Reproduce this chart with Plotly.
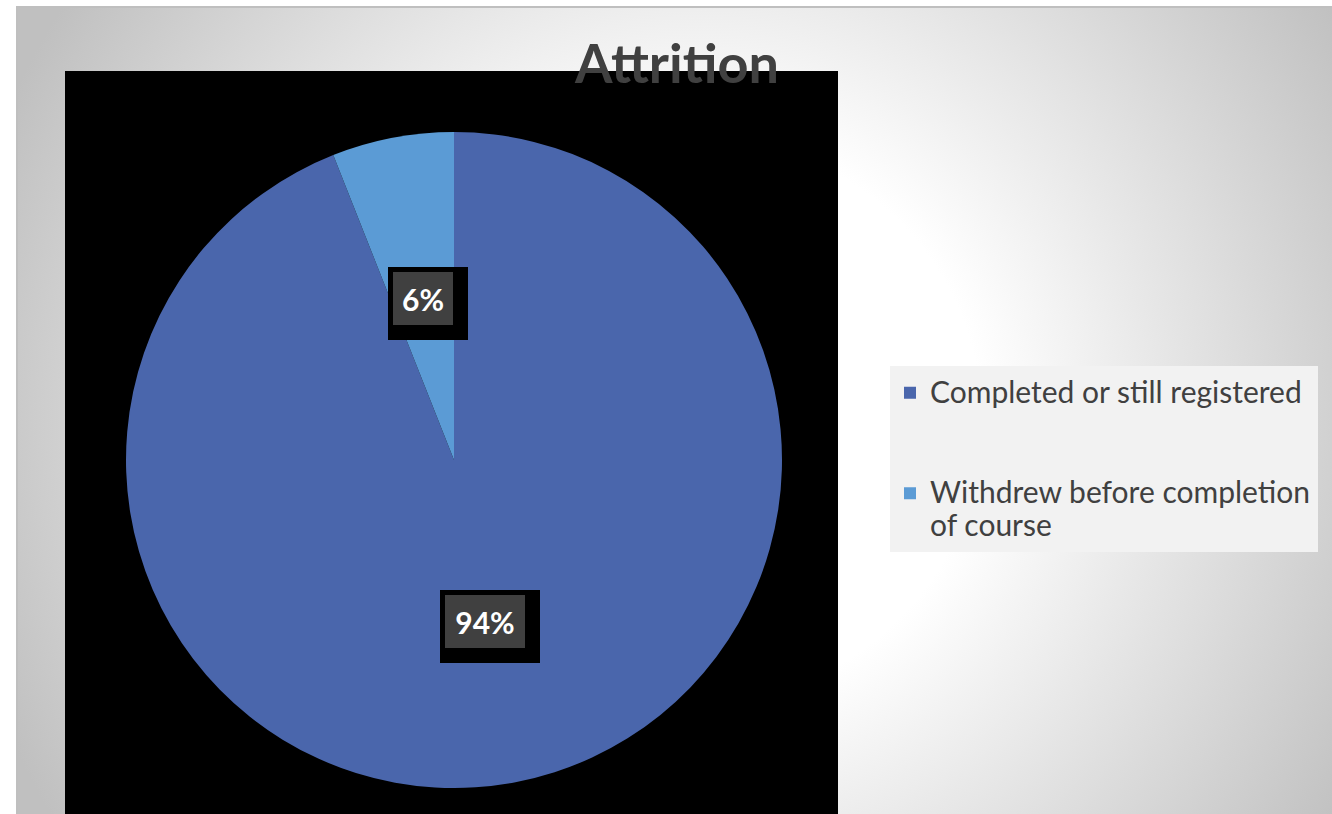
import base64
import math
import plotly.graph_objects as go

# ---------------- data ----------------
categories = ["Completed or still registered", "Withdrew before completion of course"]
legend_lines = [["Completed or still registered", " ", " "], ["Withdrew before completion", "of course"]]
values = [94, 6]
colors = ["#4A66AC", "#5B9BD5"]
title_text = "Attrition"

# ---------------- geometry / style ----------------
W, H = 1332, 814
PIE_CX, PIE_CY, PIE_R = 454, 460, 328


def px_x(x):
    return x / W


def px_y(y):
    return 1 - y / H


# background gradient as an SVG image (from screen px 16, 6 to the edges)
bg_x0, bg_y0 = 16, 6
bg_w, bg_h = W - bg_x0, H - bg_y0
svg = f"""<svg xmlns='http://www.w3.org/2000/svg' width='{bg_w}' height='{bg_h}' viewBox='0 0 {bg_w} {bg_h}'>
<defs><radialGradient id='g' gradientUnits='userSpaceOnUse' cx='684' cy='414' r='760'>
<stop offset='0.37' stop-color='#ffffff'/><stop offset='1' stop-color='#c0c0c0'/></radialGradient></defs>
<rect width='{bg_w}' height='{bg_h}' fill='url(#g)'/>
<line x1='0' y1='1' x2='{bg_w}' y2='1' stroke='#bfbfbf' stroke-width='2'/>
<line x1='1' y1='0' x2='1' y2='{bg_h}' stroke='#bfbfbf' stroke-width='2'/>
</svg>"""
svg_uri = "data:image/svg+xml;base64," + base64.b64encode(svg.encode()).decode()

legend_text = ["<br>".join(f"<span style='font-size:30px'>{ln}</span>" for ln in lines)
               for lines in legend_lines]

fig = go.Figure()
fig.add_trace(go.Pie(
    labels=legend_text,
    values=values,
    sort=False,
    direction="clockwise",
    rotation=0,
    marker=dict(colors=colors, line=dict(width=0)),
    textinfo="none",
    hovertext=categories,
    hoverinfo="text+percent",
    domain=dict(x=[px_x(PIE_CX - PIE_R), px_x(PIE_CX + PIE_R)],
                y=[px_y(PIE_CY + PIE_R), px_y(PIE_CY - PIE_R)]),
    showlegend=True,
))

# data labels placed at half radius along each slice's mid angle
total = sum(values)
annotations = []
cum = 0
for v in values:
    mid = (cum + v / 2) / total * 2 * math.pi
    cum += v
    xp = PIE_CX + 0.5 * PIE_R * math.sin(mid)
    yp = PIE_CY - 0.5 * PIE_R * math.cos(mid)
    label = f"{round(100 * v / total)}%"
    w = 20 * len(label) + 20
    h = 53
    common = dict(x=px_x(xp), y=px_y(yp), xref="paper", yref="paper", showarrow=False,
                  xanchor="center", yanchor="middle", borderpad=0, borderwidth=0)
    # outer black box (offset)
    annotations.append(dict(common, text="&nbsp;", font=dict(family="Lato", size=30, color="#000000"),
                            bgcolor="#000000", width=w + 20, height=h + 20, xshift=5, yshift=-5))
    # inner dark box with label
    annotations.append(dict(common, text=label,
                            font=dict(family="Lato", size=30, color="#ffffff", weight="bold"),
                            bgcolor="#404040", width=w, height=h))

shapes = [
    # black plot area
    dict(type="rect", xref="paper", yref="paper", layer="below",
         x0=px_x(65), x1=px_x(838), y0=0, y1=px_y(71),
         fillcolor="#000000", line=dict(width=0)),
    # legend background
    dict(type="rect", xref="paper", yref="paper", layer="below",
         x0=px_x(890), x1=px_x(1318), y0=px_y(552), y1=px_y(366),
         fillcolor="#f2f2f2", line=dict(width=0)),
]

fig.update_layout(
    width=W, height=H,
    margin=dict(l=0, r=0, t=0, b=0),
    paper_bgcolor="#ffffff",
    plot_bgcolor="rgba(0,0,0,0)",
    images=[dict(source=svg_uri, xref="paper", yref="paper", x=px_x(bg_x0), y=px_y(bg_y0),
                 sizex=bg_w / W, sizey=bg_h / H, xanchor="left", yanchor="top",
                 sizing="stretch", layer="below")],
    shapes=shapes,
    annotations=annotations,
    title=dict(text=title_text, x=px_x(677), xanchor="center", y=px_y(64), yanchor="middle",
               xref="paper", yref="paper",
               font=dict(family="Lato", size=54, color="#404040", weight="bold")),
    legend=dict(x=px_x(890), xanchor="left", y=px_y(370), yanchor="top",
                bgcolor="rgba(0,0,0,0)", valign="top",
                font=dict(family="Lato", size=25, color="#404040")),
)

fig.write_html("out.html", config={"displayModeBar": False},
               post_script="document.body.style.margin='0';")
